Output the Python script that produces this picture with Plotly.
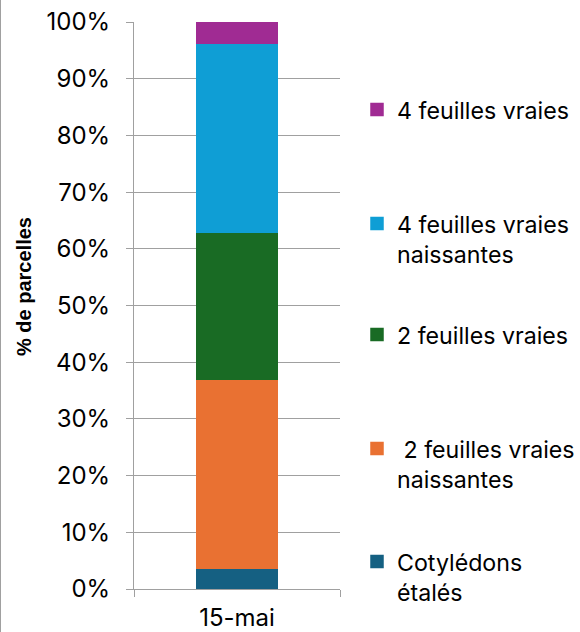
import plotly.graph_objects as go

categories = ["15-mai"]
series_names = ["Cotylédons<br>étalés", "\u00a02 feuilles vraies<br>naissantes", "2 feuilles vraies",
                "4 feuilles vraies<br>naissantes", "4 feuilles vraies"]
series_values = [[3.7], [33.3], [25.9], [33.3], [3.7]]
series_colors = ["#156082", "#E97132", "#196B24", "#0F9ED5", "#A02B93"]
y_ticks = list(range(0, 101, 10))
y_tick_labels = [f"{v}%" for v in y_ticks]

W, H = 580, 632
L, R, T, B = 134, 240, 22, 43
pw, ph = W - L - R, H - T - B

def px_x(x):
    return (x - L) / pw

def px_y(y):
    return (H - B - y) / ph

# legend first-line centres (pixels)
legend_tops = [563, 450, 336, 225, 111]

fig = go.Figure()
legend_names = ["legend5", "legend4", "legend3", "legend2", "legend"]
for name, vals, col, lg in zip(series_names, series_values, series_colors, legend_names):
    fig.add_trace(go.Bar(
        x=categories, y=vals, name=name, marker=dict(color=col, line=dict(color=col, width=1.5)),
        width=0.39, legend=lg,
    ))

legend_font = dict(family="Inter, Open Sans, sans-serif", size=23.2, color="#000000")
layout_legends = {}
for lg, ty in zip(legend_names, legend_tops):
    layout_legends[lg] = dict(
        x=357 / W, y=1 - (ty - 23) / H, xref="container", yref="container",
        xanchor="left", yanchor="top",
        font=legend_font, bgcolor="rgba(0,0,0,0)", valign="top", borderwidth=0,
    )

fig.update_layout(
    width=W, height=H,
    margin=dict(l=L, r=R, t=T, b=B, pad=0, autoexpand=False),
    barmode="stack",
    paper_bgcolor="white", plot_bgcolor="white",
    showlegend=True,
    **layout_legends,
    xaxis=dict(
        showline=True, linecolor="#A0A0A0", linewidth=1,
        ticks="outside", tickson="boundaries", ticklen=7, tickcolor="#A0A0A0",
        tickfont=dict(family="Inter, Open Sans, sans-serif", size=24, color="#000000"),
        ticklabelstandoff=7,
        showgrid=False, zeroline=False,
    ),
    yaxis=dict(
        range=[0, 100], tickvals=y_ticks, ticktext=y_tick_labels,
        showline=True, linecolor="#A0A0A0", linewidth=1,
        ticks="outside", ticklen=7, tickcolor="#A0A0A0",
        showgrid=True, gridcolor="#A0A0A0", gridwidth=1,
        zeroline=False,
        tickfont=dict(family="Inter, Open Sans, sans-serif", size=24, color="#000000"),
        ticklabelstandoff=11,
    ),
    annotations=[dict(
        text="<b>% de parcelles</b>", textangle=-90,
        x=px_x(24), y=px_y(287), xref="paper", yref="paper",
        showarrow=False, xanchor="center", yanchor="middle",
        font=dict(family="Liberation Sans, Arial, sans-serif", size=20, color="#000000"),
    )],
    shapes=[dict(type="line", xref="paper", yref="paper",
                 x0=px_x(0.5), x1=px_x(0.5), y0=px_y(0), y1=px_y(H),
                 line=dict(color="#A0A0A0", width=1))],
)

fig.write_html("out.html", config={"displayModeBar": False},
               post_script="document.body.style.margin='0';document.body.style.overflow='hidden';")
